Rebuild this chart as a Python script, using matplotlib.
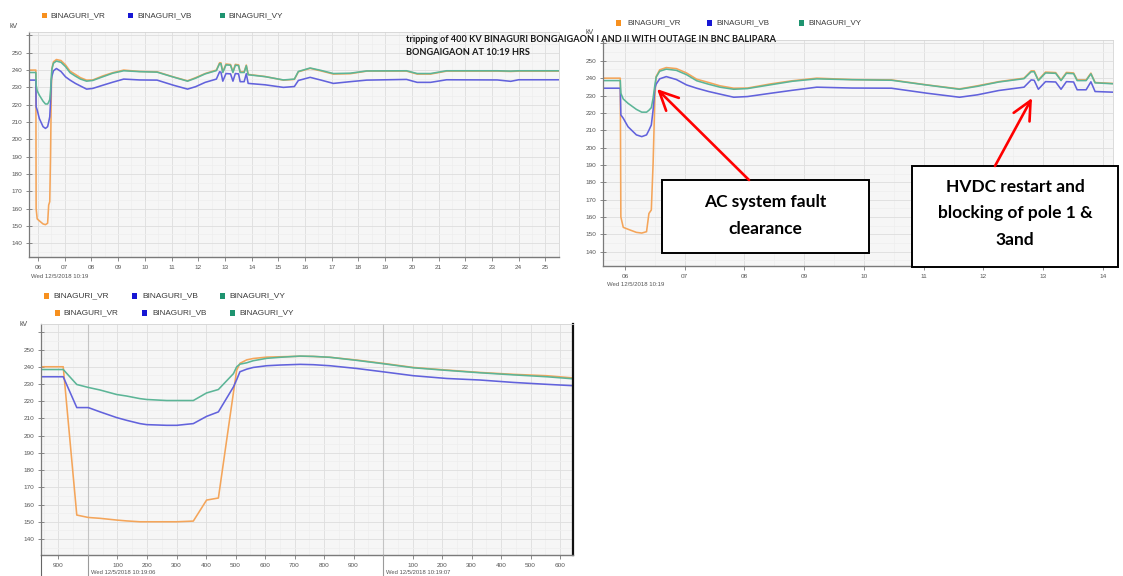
import matplotlib
matplotlib.use("Agg")
import matplotlib.pyplot as plt
from matplotlib.patches import Rectangle, FancyArrowPatch
from matplotlib.ticker import MultipleLocator
import numpy as np

# ---------------- data ----------------
series_names = ["BINAGURI_VR", "BINAGURI_VB", "BINAGURI_VY"]

# top charts: time in seconds after 10:19:00
t_top = [5.60, 5.92, 5.93, 5.97, 6.05, 6.19, 6.28, 6.36, 6.40, 6.44, 6.47, 6.50, 6.52,
         6.58, 6.69, 6.86, 7.03, 7.20, 7.40, 7.59, 7.82, 8.05, 8.44, 8.80, 9.21, 9.80,
         10.46, 11.06, 11.60, 11.90, 12.26, 12.68, 12.80, 12.85, 12.92, 13.04, 13.21,
         13.30, 13.39, 13.51, 13.57, 13.72, 13.80, 13.87, 14.50, 15.19, 15.60, 15.75,
         16.19, 16.60, 17.06, 17.69, 18.31, 19.80, 20.20, 20.70, 21.30, 23.20, 23.70,
         24.00, 25.60]
vr_top = [240, 240, 160, 154, 152.9, 151.1, 150.7, 151.5, 162, 164, 191, 229.4, 240.9,
          244.8, 246.1, 245.5, 243, 239.4, 237.5, 235.6, 234.2, 234.3, 236.7, 238.5, 240,
          239.2, 239, 236.1, 233.8, 235.6, 238, 240, 244.2, 244.2, 239, 243.5, 243.2,
          239, 243.3, 243, 239, 239, 242.9, 237.5, 236.3, 234.2, 234.6, 239, 241, 239.5,
          237.7, 237.9, 239.4, 239.4, 237.7, 237.7, 239.4, 239.4, 239.2, 239.4, 239.4]
vb_top = [234.2, 234.2, 218.8, 216.9, 212, 207.3, 206.3, 207.3, 210, 213, 221.7, 234.2,
          236.5, 239.6, 240.9, 239.2, 236.1, 234.2, 232.3, 230.8, 229, 229.4, 231.3, 233,
          234.8, 234.3, 234.2, 231.3, 229, 230.4, 232.9, 234.8, 239, 238.8, 233.6, 238,
          237.8, 233.6, 238, 237.8, 233.3, 233.3, 237.9, 232.3, 231.5, 230, 230.5, 234,
          235.8, 234.2, 232.3, 233.3, 234.2, 234.6, 232.9, 232.9, 234.4, 234.3, 233.5,
          234.4, 234.4]
vy_top = [238.6, 238.6, 231.3, 228, 225.5, 222, 220.4, 220.4, 221.5, 223, 228.5, 236.1,
          240.5, 244, 245.2, 244.5, 242, 238.5, 236.5, 234.8, 233.6, 234, 236.2, 238.2,
          239.6, 239.1, 238.8, 236, 233.6, 235.3, 237.8, 239.7, 243.7, 243.7, 238.6, 243,
          242.8, 238.6, 242.8, 242.6, 238.6, 238.6, 242.5, 237.3, 236.2, 234.3, 234.8,
          239.2, 241.2, 239.8, 238, 238.2, 239.5, 239.6, 238, 238, 239.6, 239.6, 239.4,
          239.6, 239.6]

# bottom chart: milliseconds after 10:19:06.000
ms_bot = [-160, -84, -38, 1, 41, 97, 131, 176, 199, 267, 301, 357, 402, 442, 493, 504,
          515, 538, 560, 606, 651, 719, 764, 820, 911, 999, 1103, 1216, 1329, 1442,
          1555, 1645]
vr_bot = [240, 240, 153.9, 152.5, 152, 151, 150.5, 150, 150, 150, 150, 150.4, 162.6,
          163.8, 225, 238, 242, 244, 244.8, 245.6, 245.8, 246.1, 246, 245.5, 243.9, 242,
          239.6, 238.1, 236.7, 235.6, 234.8, 233.5]
vb_bot = [234.2, 234.2, 216.3, 216.3, 213.8, 210.5, 208.9, 207, 206.4, 206, 206, 207,
          211.2, 213.8, 228.3, 232.5, 237.1, 238.6, 239.6, 240.6, 241, 241.4, 241.2,
          240.6, 239, 237.1, 234.8, 233.2, 232.3, 230.9, 229.8, 229]
vy_bot = [238.4, 238.4, 229.7, 228, 226.5, 223.9, 223, 221.5, 221, 220.4, 220.4, 220.4,
          224.8, 226.8, 236, 240, 241.5, 242.3, 243.5, 244.9, 245.5, 246.2, 246, 245.5,
          243.7, 241.8, 239.4, 237.9, 236.5, 235.3, 234.2, 233]

top_xticks = list(range(6, 26))
top2_xticks = list(range(6, 15))
bot_xticks = [-100, 100, 200, 300, 400, 500, 600, 700, 800, 900,
              1100, 1200, 1300, 1400, 1500, 1600]
bot_xlabels = ["900", "100", "200", "300", "400", "500", "600", "700", "800", "900",
               "100", "200", "300", "400", "500", "600"]
y_ticks = [140, 150, 160, 170, 180, 190, 200, 210, 220, 230, 240, 250, 260]

title_lines = ["tripping of 400 KV BINAGURI BONGAIGAON I AND II WITH OUTAGE IN BNC BALIPARA",
               "BONGAIGAON AT 10:19 HRS"]
box1_lines = ["AC system fault", "clearance"]
box2_lines = ["HVDC restart and", "blocking of pole 1 &", "3and"]

# ---------------- style ----------------
LINE_C = ["#f4a55a", "#6262dc", "#5cb597"]
LEG_C = ["#f7901e", "#1717d4", "#1e9470"]
SANS = ["Liberation Sans", "DejaVu Sans"]
BOLD = ["Lato", "DejaVu Sans"]

W, H = 1123, 576
fig = plt.figure(figsize=(W / 100, H / 100), dpi=100)
fig.patch.set_facecolor("white")


def ax_px(l, t, r, b):
    return fig.add_axes([l / W, 1 - b / H, (r - l) / W, (b - t) / H])


def style(ax, xlim, ylim, xticks, xlabels, xminor):
    ax.set_facecolor("#f6f6f6")
    ax.set_xlim(*xlim)
    ax.set_ylim(*ylim)
    ax.set_yticks(y_ticks)
    ax.set_yticklabels([str(v) if v < 260 else "" for v in y_ticks])
    ax.yaxis.set_minor_locator(MultipleLocator(5))
    ax.set_xticks(xticks)
    ax.set_xticklabels(xlabels)
    ax.xaxis.set_minor_locator(MultipleLocator(xminor))
    ax.grid(which="major", color="#dedede", lw=0.6)
    ax.grid(which="minor", color="#eeeeee", lw=0.5)
    ax.set_axisbelow(True)
    ax.tick_params(which="minor", length=0)
    ax.tick_params(axis="y", direction="inout", length=4, width=0.6, color="#777777",
                   labelsize=4.6, labelcolor="#555555", pad=3)
    ax.tick_params(axis="x", direction="out", length=3, width=0.6, color="#777777",
                   labelsize=4.6, labelcolor="#555555", pad=3)
    for lab in ax.get_xticklabels() + ax.get_yticklabels():
        lab.set_family(SANS)
    ax.spines["left"].set_color("#7a7a7a")
    ax.spines["left"].set_linewidth(0.9)
    ax.spines["bottom"].set_color("#7a7a7a")
    ax.spines["bottom"].set_linewidth(1.0)
    for s in ("top", "right"):
        ax.spines[s].set_color("#d4d4d4")
        ax.spines[s].set_linewidth(0.6)


def plot_series(ax, x, ys):
    for y, c in zip(ys, LINE_C):
        ax.plot(x, y, color=c, lw=1.15, solid_joinstyle="round")


# panel 1 (top-left)
ax1 = ax_px(29, 32, 559, 257)
style(ax1, (5.663, 25.51), (132, 262), top_xticks, [f"{v:02d}" for v in top_xticks], 0.5)
plot_series(ax1, t_top, [vr_top, vb_top, vy_top])

# panel 2 (top-right)
ax2 = ax_px(603, 40, 1113, 265.5)
style(ax2, (5.631, 14.17), (132, 262), top2_xticks, [f"{v:02d}" for v in top2_xticks], 0.5)
plot_series(ax2, t_top, [vr_top, vb_top, vy_top])

# panel 3 (bottom)
ax3 = ax_px(41, 323.7, 573, 554.5)
style(ax3, (-159.3, 1644), (131, 265), bot_xticks, bot_xlabels, 50)
for sep in (0, 1000):
    ax3.axvline(sep, color="#c4c4c4", lw=0.8, zorder=1)
plot_series(ax3, ms_bot, [vr_bot, vb_bot, vy_bot])
ax3.spines["right"].set_color("#111111")
ax3.spines["right"].set_linewidth(1.6)

# ---------------- overlay in pixel coordinates ----------------
ov = fig.add_axes([0, 0, 1, 1], zorder=10)
ov.set_xlim(0, W)
ov.set_ylim(H, 0)
ov.axis("off")
ov.patch.set_alpha(0)

renderer = fig.canvas.get_renderer()


def fit(txt, width):
    bb = txt.get_window_extent(renderer)
    txt.set_fontsize(txt.get_fontsize() * width / bb.width)
    return txt


def legend(y, xs_sq, xs_txt, width=54):
    for name, c, xs, xt in zip(series_names, LEG_C, xs_sq, xs_txt):
        ov.add_patch(Rectangle((xs, y - 2.6), 5.2, 5.2, color=c, lw=0))
        t = ov.text(xt, y, name, fontsize=6, color="#3a3a3a", family=SANS,
                    ha="left", va="center")
        fit(t, width)


legend(15.5, [41.5, 128, 220], [50, 137.5, 228.5], 55)
legend(23, [616, 706.5, 798.5], [627, 716.5, 808.5], 53)
legend(296, [44, 131.5, 220], [53.5, 142, 229.5], 56)
legend(313, [54.5, 142, 229.5], [63.5, 152, 239], 55)

for (x, y) in [(10, 27), (586, 33), (19, 324)]:
    ov.text(x, y, "kV", fontsize=5, color="#444444", family=SANS, ha="left", va="center")

for (x, y, s, w) in [(31, 276.5, "Wed 12/5/2018 10:19", 57),
                     (607, 285, "Wed 12/5/2018 10:19", 57),
                     (91, 572, "Wed 12/5/2018 10:19:06", 65),
                     (386, 572, "Wed 12/5/2018 10:19:07", 65)]:
    t = ov.text(x, y, s, fontsize=4.5, color="#555555", family=SANS, ha="left", va="center")
    fit(t, w)

# separators / axis extension below bottom chart
for x, c in [(41, "#666666"), (88, "#9a9a9a"), (383, "#9a9a9a")]:
    ov.plot([x, x], [554.5, 576], color=c, lw=0.8)

# title
t1 = ov.text(406.5, 40, title_lines[0], fontsize=7, fontweight="bold", family=BOLD,
             color="#1a1a1a", ha="left", va="center")
fit(t1, 368)
t2 = ov.text(406.5, 52.5, title_lines[1], fontsize=t1.get_fontsize(), fontweight="bold",
             family=BOLD, color="#1a1a1a", ha="left", va="center")

# annotation boxes
ov.add_patch(Rectangle((662, 180), 207, 73, facecolor="white", edgecolor="black", lw=1.4))
ov.add_patch(Rectangle((912, 166), 206, 101, facecolor="white", edgecolor="black", lw=1.4))
tb = ov.text(1015, 213, box2_lines[1], fontsize=12, fontweight="bold", family=BOLD,
             color="black", ha="center", va="center")
fit(tb, 154)
fs_box = tb.get_fontsize()
ov.text(1015, 187, box2_lines[0], fontsize=fs_box, fontweight="bold", family=BOLD,
        color="black", ha="center", va="center")
ov.text(1015, 240, box2_lines[2], fontsize=fs_box, fontweight="bold", family=BOLD,
        color="black", ha="center", va="center")
ov.text(765.5, 202, box1_lines[0], fontsize=fs_box, fontweight="bold", family=BOLD,
        color="black", ha="center", va="center")
ov.text(765.5, 229, box1_lines[1], fontsize=fs_box, fontweight="bold", family=BOLD,
        color="black", ha="center", va="center")

# red arrows
for (xa, ya), (xb, yb) in [((749, 180), (657, 89)), ((995, 166), (1032, 98))]:
    ov.add_patch(FancyArrowPatch((xa, ya), (xb, yb),
                                 arrowstyle="->,head_length=1.35,head_width=0.65",
                                 mutation_scale=10, color="#ff0000", lw=1.9,
                                 shrinkA=0, shrinkB=0))

fig.savefig("out.png", dpi=100, facecolor="white")
